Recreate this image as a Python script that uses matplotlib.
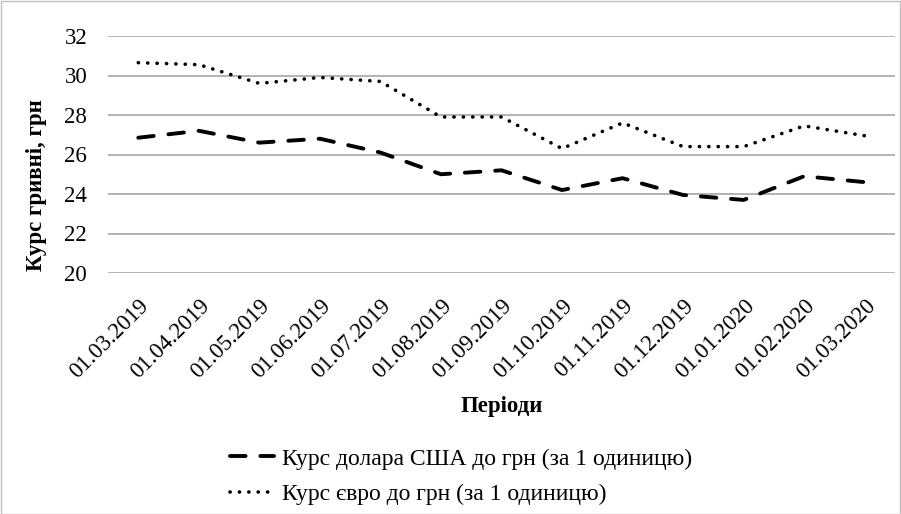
import matplotlib
matplotlib.use("Agg")
import matplotlib.pyplot as plt
from matplotlib.patches import Rectangle
from matplotlib.transforms import ScaledTranslation

dates = ["01.03.2019", "01.04.2019", "01.05.2019", "01.06.2019", "01.07.2019",
         "01.08.2019", "01.09.2019", "01.10.2019", "01.11.2019", "01.12.2019",
         "01.01.2020", "01.02.2020", "01.03.2020"]
usd = [26.85, 27.2, 26.6, 26.8, 26.1, 25.0, 25.2, 24.2, 24.8, 23.95, 23.7, 24.9, 24.6]
eur = [30.65, 30.55, 29.6, 29.9, 29.7, 27.9, 27.9, 26.3, 27.6, 26.4, 26.4, 27.45, 26.95]
usd_label = "Курс долара США до грн (за 1 одиницю)"
eur_label = "Курс євро до грн (за 1 одиницю)"
yticks = [20, 22, 24, 26, 28, 30, 32]

plt.rcParams['font.family'] = ['Liberation Serif', 'DejaVu Serif']
FS = 16.5

W, H = 901, 514
fig = plt.figure(figsize=(W / 100, H / 100), dpi=100)
ax = fig.add_axes([108 / W, 1 - 273 / H, (895 - 108) / W, (273 - 36) / H])

x = list(range(len(dates)))
ax.plot(x, usd, color='black', lw=2.8, linestyle=(0, (4.0, 3.8)),
        dash_capstyle='round', label=usd_label)
ax.plot(x, eur, color='black', lw=2.6, linestyle=(0, (0.05, 2.55)),
        dash_capstyle='round', label=eur_label)

ax.set_xlim(-0.5, len(dates) - 0.5)
ax.set_ylim(20, 32)
ax.set_yticks(yticks)
ax.set_yticklabels([str(v) for v in yticks], fontsize=FS)
ax.set_xticks(x)
ax.set_xticklabels(dates, rotation=45, ha='right', va='top',
                   rotation_mode='anchor', fontsize=FS)
off = ScaledTranslation(3 / 100, 0, fig.dpi_scale_trans)
for lab in ax.get_xticklabels():
    lab.set_transform(lab.get_transform() + off)
ax.tick_params(axis='y', length=0, pad=15)
ax.tick_params(axis='x', length=0, pad=16)
ax.grid(axis='y', color='#a6a6a6', lw=1.2)
ax.set_axisbelow(True)
for s in ax.spines.values():
    s.set_visible(False)

ax.set_xlabel("Періоди", fontsize=FS, fontweight='bold', labelpad=10)
ax.set_ylabel("Курс гривні, грн", fontsize=FS, fontweight='bold', va='center')
ax.yaxis.set_label_coords((36 - 108) / (895 - 108), (273 - 185) / (273 - 36))

leg = fig.legend(loc='upper left', bbox_to_anchor=(230 / W, 1 - 448 / H),
                 frameon=False, fontsize=17, handlelength=1.85, handletextpad=0.35,
                 labelspacing=0.6, borderaxespad=0, borderpad=0)

fig.patches.append(Rectangle((0.5 / W, 0.5 / H), (W - 1.5) / W, (H - 1.5) / H,
                             transform=fig.transFigure, fill=False,
                             edgecolor='#bfbfbf', lw=1))

fig.savefig("out.png", dpi=100)
